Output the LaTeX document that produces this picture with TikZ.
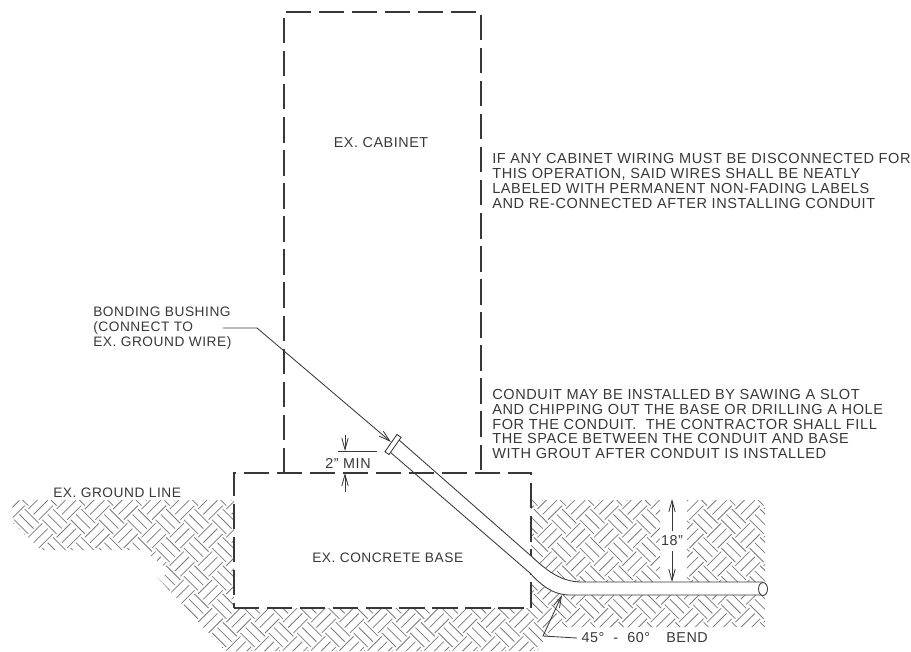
\documentclass[tikz,border=0pt]{standalone}
\usepackage{fontspec}
\setmainfont{Liberation Sans}[LetterSpace=4]
\usetikzlibrary{arrows.meta}
\definecolor{inkgray}{gray}{0.22}
\tikzset{
	>={Straight Barb[length=8pt,width=4.5pt]},
	dashline/.style={draw=inkgray,line width=0.9pt,dash pattern=on 18pt off 5.5pt},
	thinline/.style={draw=inkgray,line width=0.6pt},
	hatchline/.style={draw=black!52,line width=0.55pt},
	notetext/.style={inner sep=0pt,anchor=west,align=left,text=inkgray,font=\fontsize{10.35}{10.45}\selectfont},
	smalltext/.style={inner sep=0pt,anchor=west,align=left,text=inkgray,font=\fontsize{9.75}{10.45}\selectfont},
	dimtext/.style={inner sep=3pt,text=inkgray,font=\fontsize{10.2}{10.45}\selectfont}
}
\begin{document}
\begin{tikzpicture}[x=0.025cm,y=-0.025cm]
	\useasboundingbox (0,0) rectangle (911,651);

	% ground hatching
	\begin{scope}
		\clip (12,500) -- (660,500) -- (660,582) -- (687,582) -- (687,500) -- (765,500) -- (765,627)
			-- (555,627) -- (537,651) -- (225,651) -- (157,577) -- (173,573) -- (143,550) -- (40,550) -- (13,523) -- cycle;
		\begin{scope}[rotate=45]
			\foreach \i in {-25,...,35} {
				\foreach \j in {-2,...,60} {
					\ifodd\numexpr\i+\j\relax
						\foreach \k in {0.125,0.5,0.875}
							\draw[hatchline] ({(\i+\k)*20},{(\j-0.125)*20}) -- ({(\i+\k)*20},{(\j+0.875)*20});
					\else
						\foreach \k in {0,0.375,0.75}
							\draw[hatchline] ({\i*20},{(\j+\k)*20}) -- ({(\i+1)*20},{(\j+\k)*20});
					\fi
				}
			}
		\end{scope}
	\end{scope}

	% base and cabinet
	\fill[white] (234,473) rectangle (531,608);
	\draw[dashline] (234,608) -- (531,608) -- (531,473) -- (234,473) -- cycle;
	\draw[dashline] (284,473) -- (284,12) -- (481,12) -- (481,473);

	% conduit
	\fill[white] (530,555) .. controls (548,572) and (562,582) .. (582,582) -- (763,582) -- (763,595) -- (570,595)
		.. controls (552,595) and (540,584) .. (530,573) -- cycle;
	\draw[thinline] (399,440) -- (530,555) .. controls (548,572) and (562,582) .. (582,582) -- (763,582);
	\draw[thinline] (390,452) -- (530,573) .. controls (540,584) and (552,595) .. (570,595) -- (763,595);
	\draw[thinline,fill=white] (763,589) ellipse (4.5 and 6.5);
	\draw[thinline,fill=white,rotate around={55:(393,444.5)}] (382.5,442) rectangle (403.5,447);

	% texts
	\node[dimtext] (cabinet) at (381,143) {EX. CABINET};
	\node[smalltext] (concretebase) at (312,558) {EX. CONCRETE BASE};
	\node[smalltext] (groundline) at (53,493) {EX. GROUND LINE};
	\node[smalltext] (bushingnote) at (93,328) {BONDING BUSHING\\(CONNECT TO\\EX. GROUND WIRE)};
	\node[notetext] (wiringnote) at (492,181) {IF ANY CABINET WIRING MUST BE DISCONNECTED FOR\\THIS OPERATION, SAID WIRES SHALL BE NEATLY\\LABELED WITH PERMANENT NON-FADING LABELS\\AND RE-CONNECTED AFTER INSTALLING CONDUIT};
	\node[notetext] (conduitnote) at (492,424) {CONDUIT MAY BE INSTALLED BY SAWING A SLOT\\AND CHIPPING OUT THE BASE OR DRILLING A HOLE\\FOR THE CONDUIT.\ \ THE CONTRACTOR SHALL FILL\\THE SPACE BETWEEN THE CONDUIT AND BASE\\WITH GROUT AFTER CONDUIT IS INSTALLED};
	\node[dimtext] (mindim) at (348,463) {2" MIN};
	\node[dimtext] (depthdim) at (672,541) {18"};
	\node[dimtext,anchor=west] (bendnote) at (577,638) {45°\ \ -\ \ 60°\ \ \ \,BEND};

	% leaders
	\coordinate (bushingfree) at (223,328);
	\coordinate (bushingknee) at (257,328);
	\coordinate (bushingtip) at (391,442);
	\draw[thinline,->] (bushingfree) -- (bushingknee) -- (bushingtip);
	\coordinate (bendknee) at (543,636);
	\coordinate (bendtip) at (562,595);
	\draw[thinline,->] (bendnote.west) -- (bendknee) -- (bendtip);

	% dimensions
	\coordinate (minleft) at (338,451);
	\coordinate (minright) at (377,451);
	\coordinate (minstart) at (345,435);
	\coordinate (minstop) at (345,451);
	\coordinate (minlow) at (345,492);
	\coordinate (minbase) at (345,473);
	\draw[thinline] (minleft) -- (minright);
	\draw[thinline,->] (minstart) -- (minstop);
	\draw[thinline,->] (minlow) -- (minbase);
	\coordinate (depthtop) at (672,499);
	\coordinate (depthlow) at (672,582);
	\draw[thinline,->] (depthdim) -- (depthtop);
	\draw[thinline,->] (depthdim) -- (depthlow);
\end{tikzpicture}
\end{document}
